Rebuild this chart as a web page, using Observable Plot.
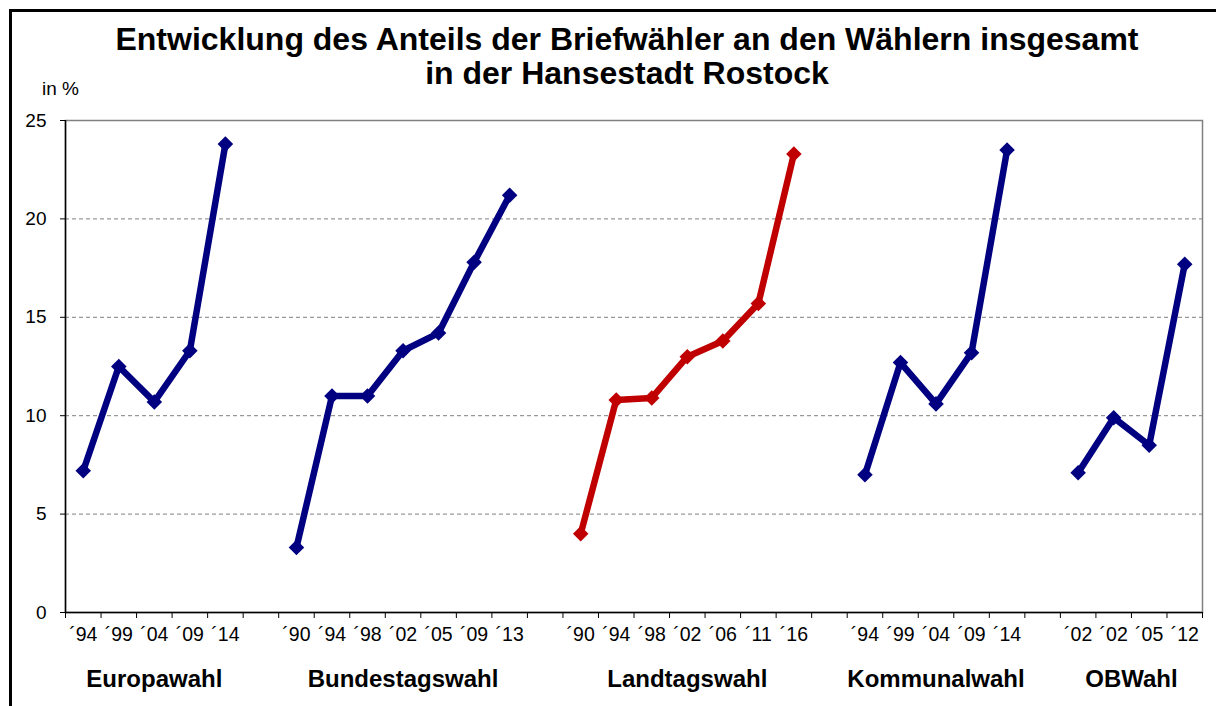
<!DOCTYPE html>
<html>
<head>
<meta charset="utf-8">
<script src="https://cdn.jsdelivr.net/npm/d3@7"></script>
<script src="https://cdn.jsdelivr.net/npm/@observablehq/plot@0.6"></script>
<style>
  html, body { margin: 0; padding: 0; background: #fff; }
  body { width: 1216px; height: 706px; position: relative; overflow: hidden; font-family: "Liberation Sans", Arial, sans-serif; color: #000; }
  #frame { position: absolute; left: 9px; top: 9px; width: 1400px; height: 900px; border-left: 3px solid #000; border-top: 3px solid #000; box-sizing: border-box; }
  #title { position: absolute; left: 0; width: 1254px; top: 22px; text-align: center; font-weight: bold; font-size: 32px; line-height: 34px; }
  #unit { position: absolute; left: 42px; top: 78px; font-size: 19px; }
  #chart { position: absolute; left: 0; top: 100px; }
</style>
</head>
<body>
<div id="frame"></div>
<div id="title">Entwicklung des Anteils der Briefwähler an den Wählern insgesamt<br>in der Hansestadt Rostock</div>
<div id="unit">in %</div>
<div id="chart"></div>
<script>
// Data
const groups = ["Europawahl", "Bundestagswahl", "Landtagswahl", "Kommunalwahl", "OBWahl"];
const europaYears = ["´94", "´99", "´04", "´09", "´14"];
const europaValues = [7.2, 12.5, 10.7, 13.3, 23.8];
const bundestagYears = ["´90", "´94", "´98", "´02", "´05", "´09", "´13"];
const bundestagValues = [3.3, 11.0, 11.0, 13.3, 14.2, 17.8, 21.2];
const landtagYears = ["´90", "´94", "´98", "´02", "´06", "´11", "´16"];
const landtagValues = [4.0, 10.8, 10.9, 13.0, 13.8, 15.7, 23.3];
const kommunalYears = ["´94", "´99", "´04", "´09", "´14"];
const kommunalValues = [7.0, 12.7, 10.6, 13.2, 23.5];
const obYears = ["´02", "´02", "´05", "´12"];
const obValues = [7.1, 9.9, 8.5, 17.7];
const groupColors = ["#000080", "#000080", "#C00000", "#000080", "#000080"];
const yTicks = [0, 5, 10, 15, 20, 25];

// Build table: one empty category slot between groups
const seriesYears = [europaYears, bundestagYears, landtagYears, kommunalYears, obYears];
const seriesValues = [europaValues, bundestagValues, landtagValues, kommunalValues, obValues];
const rows = [];
const groupCenters = [];
let slot = 0;
groups.forEach((g, gi) => {
  const start = slot;
  seriesYears[gi].forEach((yr, j) => {
    rows.push({group: g, slot, label: yr, value: seriesValues[gi][j]});
    slot++;
  });
  groupCenters.push({group: g, center: (start + slot - 1) / 2});
  if (gi < groups.length - 1) slot++;
});
const nSlots = slot;
const boundaries = d3.range(nSlots + 1).map(i => i - 0.5);
const labelBySlot = new Map(rows.map(d => [d.slot, d.label]));
const groupByCenter = new Map(groupCenters.map(d => [d.center, d.group]));

const chart = Plot.plot({
  width: 1216,
  height: 606,
  marginTop: 20,
  marginBottom: 94,
  marginLeft: 65,
  marginRight: 14,
  style: {fontFamily: "'Liberation Sans', Arial, sans-serif", fontSize: "19px", color: "#000", background: "transparent"},
  x: {domain: [-0.5, nSlots - 0.5], axis: null},
  y: {domain: [0, 25], axis: null},
  color: {domain: groups, range: groupColors},
  marks: [
    Plot.gridY([5, 10, 15, 20], {stroke: "#808080", strokeOpacity: 1, strokeDasharray: "4,3"}),
    Plot.frame({stroke: "#808080", strokeWidth: 1.5}),
    Plot.axisY({ticks: yTicks, tickSize: 5, tickPadding: 14, fontSize: 19, label: null, stroke: "#000"}),
    Plot.axisX({ticks: boundaries, tickSize: 6, tickFormat: () => "", label: null, stroke: "#000"}),
    Plot.axisX({ticks: rows.map(d => d.slot), tickSize: 0, tickPadding: 15, fontSize: 19.5, tickFormat: s => labelBySlot.get(s), label: null}),
    Plot.axisX({ticks: groupCenters.map(d => d.center), tickSize: 0, tickPadding: 57, fontSize: 24, fontWeight: "bold", tickFormat: c => groupByCenter.get(c), label: null}),
    Plot.ruleX([-0.5], {stroke: "#000", strokeWidth: 1.5}),
    Plot.ruleY([0], {stroke: "#000", strokeWidth: 1.5}),
    Plot.line(rows, {x: "slot", y: "value", z: "group", stroke: "group", strokeWidth: 6.5}),
    Plot.dot(rows, {x: "slot", y: "value", fill: "group", symbol: "diamond2", r: 7})
  ]
});
document.getElementById("chart").appendChild(chart);
</script>
</body>
</html>
